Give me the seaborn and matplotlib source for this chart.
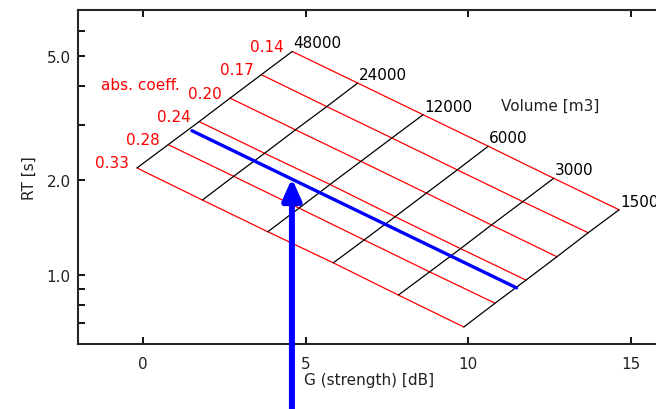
import pandas as pd
import seaborn as sns
import matplotlib.pyplot as plt
from matplotlib.ticker import FixedLocator, FixedFormatter, NullFormatter

# Nomogram grid: rows = room volume [m3], columns = absorption coefficient
volumes = ["48000", "24000", "12000", "6000", "3000", "1500"]
abs_coeffs = ["0.14", "0.17", "0.20", "0.24", "0.28", "0.33"]

# G (strength) [dB] at each grid node
g_nodes = [
    [4.59, 3.64, 2.68, 1.73, 0.78, -0.18],
    [6.60, 5.65, 4.69, 3.74, 2.79, 1.83],
    [8.61, 7.65, 6.70, 5.75, 4.80, 3.84],
    [10.61, 9.66, 8.71, 7.75, 6.80, 5.85],
    [12.62, 11.67, 10.71, 9.76, 8.81, 7.85],
    [14.63, 13.68, 12.72, 11.77, 10.82, 9.86],
]
# RT [s] at each grid node
rt_nodes = [
    [5.16, 4.35, 3.66, 3.08, 2.60, 2.19],
    [4.09, 3.44, 2.90, 2.44, 2.06, 1.73],
    [3.24, 2.73, 2.30, 1.94, 1.63, 1.37],
    [2.57, 2.16, 1.82, 1.53, 1.29, 1.09],
    [2.03, 1.71, 1.44, 1.21, 1.02, 0.86],
    [1.61, 1.36, 1.14, 0.96, 0.81, 0.68],
]

# highlighted line and the arrow pointing at it
chosen_g = [1.51, 11.48]
chosen_rt = [2.88, 0.907]
arrow_g = 4.58
arrow_rt = [0.37, 2.03]

x_ticks = [0, 5, 10, 15]
y_ticks = [1.0, 2.0, 5.0]
y_tick_labels = ["1.0", "2.0", "5.0"]
y_minor = [0.7, 0.8, 0.9, 3, 4, 6, 7]

rows = []
for i, vol in enumerate(volumes):
    for j, alpha in enumerate(abs_coeffs):
        rows.append({"volume": vol, "alpha": alpha,
                     "G": g_nodes[i][j], "RT": rt_nodes[i][j]})
df = pd.DataFrame(rows)

sns.set_style("ticks")
plt.rcParams["font.family"] = ["DejaVu Sans"]
plt.rcParams["font.size"] = 11

fig = plt.figure(figsize=(6.56, 4.10), dpi=100)
ax = fig.add_axes([77.7 / 656, 65 / 410, 586 / 656, 334 / 410])
ax.set_yscale("log")

sns.lineplot(data=df, x="G", y="RT", units="alpha", estimator=None, sort=False,
             color="red", lw=0.9, ax=ax)
sns.lineplot(data=df, x="G", y="RT", units="volume", estimator=None, sort=False,
             color="black", lw=0.9, ax=ax)
sns.lineplot(x=chosen_g, y=chosen_rt, color="blue", lw=2.4, ax=ax)

ax.annotate("", xy=(arrow_g, arrow_rt[1]), xytext=(arrow_g, arrow_rt[0]),
            arrowprops=dict(arrowstyle="-|>,head_length=0.9,head_width=0.4",
                            color="blue", lw=4.3, shrinkA=0, shrinkB=0,
                            mutation_scale=14),
            annotation_clip=False, zorder=6)

# labels on the grid
for i, vol in enumerate(volumes):
    ax.annotate(vol, (g_nodes[i][0], rt_nodes[i][0]), xytext=(1, 1),
                textcoords="offset pixels", ha="left", va="bottom", color="black")
for j, alpha in enumerate(abs_coeffs):
    ax.annotate(alpha, (g_nodes[0][j], rt_nodes[0][j]), xytext=(-8, 5),
                textcoords="offset pixels", ha="right", va="center", color="red")
ax.text(-1.28, 4.06, "abs. coeff.", color="red", ha="left", va="center")
ax.text(11.01, 3.48, "Volume [m3]", color="#222222", ha="left", va="center")

ax.set_xlim(-2, 16)
ax.set_ylim(0.6, 7.0)
ax.xaxis.set_major_locator(FixedLocator(x_ticks))
ax.yaxis.set_major_locator(FixedLocator(y_ticks))
ax.yaxis.set_major_formatter(FixedFormatter(y_tick_labels))
ax.yaxis.set_minor_locator(FixedLocator(y_minor))
ax.yaxis.set_minor_formatter(NullFormatter())

ax.tick_params(which="both", direction="in", top=True, right=False,
               length=5, width=1.3, colors="black", labelcolor="#222222")
ax.tick_params(axis="x", pad=9)
ax.tick_params(axis="y", pad=5)
for side in ["left", "bottom", "top"]:
    ax.spines[side].set_linewidth(1.5)
    ax.spines[side].set_visible(True)
ax.spines["right"].set_visible(False)

ax.set_xlabel("G (strength) [dB]", color="#222222")
ax.set_ylabel("RT [s]", color="#222222")
ax.xaxis.set_label_coords(0.498, -0.085)
ax.yaxis.set_label_coords(-0.07, 0.5)

fig.savefig("out.png", dpi=100)
